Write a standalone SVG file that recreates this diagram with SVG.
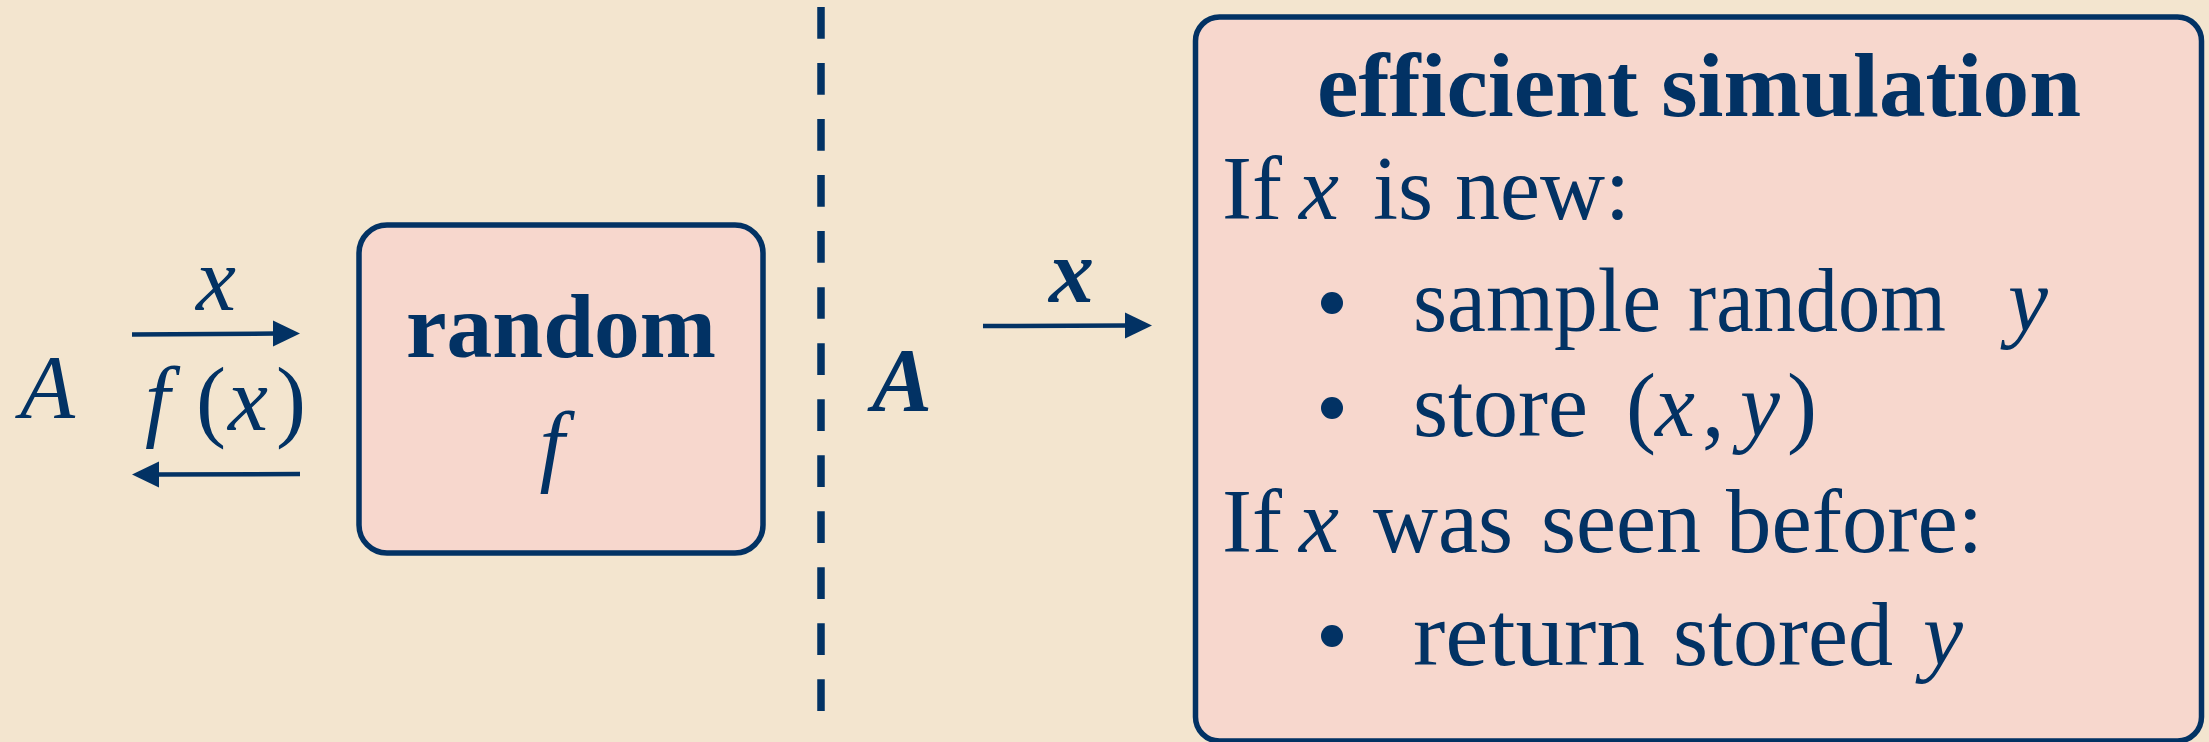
<svg xmlns="http://www.w3.org/2000/svg" width="2209" height="742" viewBox="0 0 2209 742">
<defs>
<style>
.t{font-family:"Liberation Serif","Times New Roman",serif;fill:#023264;font-size:90px}
.it{font-style:italic}
.b{font-weight:bold}
.box{fill:#F7D7CD;stroke:#023264;stroke-width:5.5}
.ln{stroke:#023264;stroke-width:4.5;fill:none}
.hd{fill:#023264}
</style>
</defs>
<rect x="0" y="0" width="2209" height="742" fill="#F3E5CF"/>
<g id="connectors">
<line class="ln" x1="132" y1="334.5" x2="276" y2="333.5"/>
<polygon class="hd" points="300,333.5 273,320.5 273,346.5"/>
<line class="ln" x1="300" y1="474" x2="156" y2="474.5"/>
<polygon class="hd" points="132,474.5 159,461.5 159,487.5"/>
<line class="ln" x1="983" y1="326" x2="1128" y2="325.5"/>
<polygon class="hd" points="1152,325.5 1125,312.5 1125,338.5"/>
<line x1="821" y1="7" x2="821" y2="711" stroke="#023264" stroke-width="7.5" stroke-dasharray="31.7 24.33"/>
</g>
<g id="left-labels">
<text class="t it" x="20" y="418" font-size="112">A</text>
<text class="t it" x="196" y="310" font-size="92">x</text>
<text class="t it" y="430" font-size="94"><tspan x="145">f</tspan><tspan x="196" font-style="normal">(</tspan><tspan x="228">x</tspan><tspan x="276" font-style="normal">)</tspan></text>
</g>
<g id="random-f">
<rect class="box" x="359" y="225" width="404" height="328" rx="28"/>
<text class="t b" x="406" y="357" font-size="92" textLength="310" lengthAdjust="spacingAndGlyphs">random</text>
<text class="t it" x="552" y="475" text-anchor="middle" font-size="112">f</text>
</g>
<g id="right-labels">
<text class="t it b" x="872" y="411" font-size="112">A</text>
<text class="t it b" x="1049" y="302" font-size="92">x</text>
</g>
<g id="efficient-simulation">
<rect class="box" x="1195.5" y="17" width="1006" height="724" rx="24"/>
<text class="t b" x="1317" y="116" font-size="90" textLength="764" lengthAdjust="spacingAndGlyphs">efficient simulation</text>
<text class="t" y="219"><tspan x="1222">If</tspan><tspan x="1299" class="it">x</tspan><tspan x="1373">is</tspan><tspan x="1455">new:</tspan></text>
<circle class="hd" cx="1332" cy="303" r="11"/>
<text class="t" y="331"><tspan x="1413" textLength="248" lengthAdjust="spacingAndGlyphs">sample</tspan><tspan x="1688" textLength="258" lengthAdjust="spacingAndGlyphs">random</tspan><tspan x="2008" class="it">y</tspan></text>
<circle class="hd" cx="1332" cy="408" r="11"/>
<text class="t" y="436"><tspan x="1413">store</tspan><tspan x="1626">(</tspan><tspan x="1655" class="it">x</tspan><tspan x="1702">,</tspan><tspan x="1740" class="it">y</tspan><tspan x="1787">)</tspan></text>
<text class="t" y="552"><tspan x="1222">If</tspan><tspan x="1299" class="it">x</tspan><tspan x="1373">was</tspan><tspan x="1541">seen</tspan><tspan x="1726" textLength="257" lengthAdjust="spacingAndGlyphs">before:</tspan></text>
<circle class="hd" cx="1332" cy="636" r="11"/>
<text class="t" y="665"><tspan x="1413" textLength="232" lengthAdjust="spacingAndGlyphs">return</tspan><tspan x="1673">stored</tspan><tspan x="1923" class="it">y</tspan></text>
</g>
</svg>
